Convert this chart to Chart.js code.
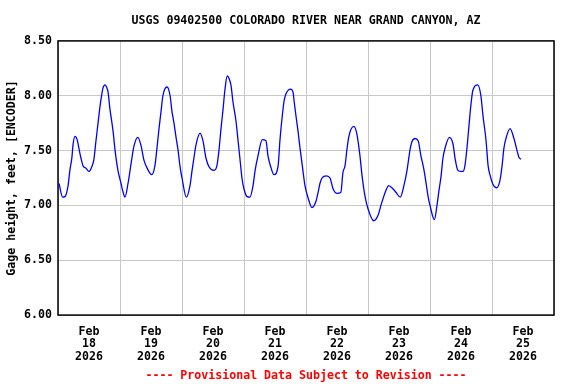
<!DOCTYPE html>
<html>
<head>
<meta charset="utf-8">
<title>USGS 09402500</title>
<script src="https://cdn.jsdelivr.net/npm/chart.js@4.4.1/dist/chart.umd.min.js"></script>
<style>
  html, body { margin: 0; padding: 0; background: #ffffff; }
  #wrap { width: 576px; height: 384px; }
</style>
</head>
<body>
<div id="wrap"><canvas id="gageChart" width="576" height="384"></canvas></div>
<script>
// hours since Feb 18 2026 00:00
var hours = [
  0.4, 1.8, 2.7, 3.9, 4.6, 5.4, 5.8, 6.6, 7.4, 8.1, 8.9, 9.7, 10.8, 12.0, 13.2, 13.9,
  14.7, 15.5, 16.3, 17.0, 17.4, 18.2, 18.8, 19.4, 20.1, 21.3, 22.1, 23.2, 24.4, 25.2,
  25.9, 27.1, 27.9, 28.6, 29.4, 30.9, 32.1, 33.3, 34.5, 36.3, 37.5, 38.3, 39.1, 39.9,
  40.6, 42.2, 43.4, 44.1, 44.9, 45.7, 46.5, 47.2, 48.0, 49.7, 51.1, 51.9, 52.6, 53.4,
  55.0, 56.1, 57.3, 58.5, 60.4, 61.5, 62.3, 63.1, 63.9, 64.6, 65.5, 66.2, 67.0, 67.7,
  68.9, 69.7, 70.5, 71.2, 72.0, 73.2, 74.3, 75.5, 76.3, 77.4, 79.1, 80.5, 81.3, 82.5,
  83.6, 85.2, 85.9, 86.7, 87.5, 88.3, 90.1, 91.0, 91.4, 92.1, 92.9, 93.7, 94.8, 95.6,
  96.8, 98.3, 99.9, 100.6, 101.4, 102.2, 103.9, 105.3, 106.5, 108.0, 109.5, 110.3,
  111.1, 111.9, 112.6, 114.5, 115.7, 116.9, 117.7, 118.8, 120.0, 122.2, 123.9, 125.0,
  125.8, 127.0, 128.0, 129.7, 130.8, 132.5, 133.9, 135.1, 136.3, 137.0, 138.2, 139.4,
  140.5, 141.7, 142.5, 143.2, 144.0, 145.7, 146.7, 147.5, 148.3, 149.0, 149.8, 151.5,
  152.9, 153.7, 154.8, 156.0, 156.8, 157.5, 158.3, 159.1, 159.9, 160.6, 162.5, 163.7,
  164.5, 165.7, 166.5, 167.2, 168.4, 169.8, 171.1, 171.9, 172.6, 173.4, 175.0, 176.5,
  177.7, 178.4, 179.2
];
var gageFeet = [
  7.20, 7.075, 7.08, 7.18, 7.32, 7.44, 7.55, 7.63, 7.60, 7.52, 7.43, 7.36, 7.34, 7.31, 7.36, 7.42,
  7.59, 7.75, 7.91, 8.02, 8.07, 8.10, 8.08, 8.03, 7.88, 7.68, 7.50, 7.32, 7.20, 7.12,
  7.075, 7.20, 7.32, 7.43, 7.54, 7.62, 7.55, 7.41, 7.34, 7.28, 7.36, 7.52, 7.70, 7.86,
  8.00, 8.08, 8.00, 7.86, 7.75, 7.62, 7.50, 7.36, 7.25, 7.075, 7.18, 7.32, 7.43, 7.55,
  7.66, 7.59, 7.43, 7.35, 7.32, 7.36, 7.50, 7.70, 7.88, 8.05, 8.18, 8.16, 8.09, 7.95,
  7.77, 7.59, 7.41, 7.25, 7.15, 7.08, 7.075, 7.18, 7.32, 7.45, 7.60, 7.59, 7.45, 7.34,
  7.28, 7.36, 7.59, 7.79, 7.95, 8.02, 8.06, 8.03, 7.95, 7.82, 7.68, 7.52, 7.32, 7.18,
  7.07, 6.98, 7.04, 7.11, 7.20, 7.25, 7.27, 7.25, 7.15, 7.11, 7.12, 7.30,
  7.36, 7.52, 7.63, 7.72, 7.65, 7.45, 7.27, 7.09, 6.97, 6.86, 6.91, 7.00,
  7.06, 7.14, 7.18, 7.15, 7.12, 7.075, 7.18, 7.32, 7.51, 7.58, 7.61, 7.59,
  7.45, 7.32, 7.20, 7.09, 7.00, 6.87, 7.00, 7.14, 7.27, 7.43, 7.52, 7.62,
  7.56, 7.43, 7.32, 7.31, 7.31, 7.36, 7.52, 7.73, 7.93, 8.05, 8.10, 8.00,
  7.82, 7.59, 7.36, 7.28, 7.19, 7.16, 7.23, 7.36, 7.52, 7.61, 7.70, 7.61,
  7.50, 7.44, 7.42
];
var dayLabels = ["18", "19", "20", "21", "22", "23", "24", "25"];
var yTicks = [6.0, 6.5, 7.0, 7.5, 8.0, 8.5];

(function () {
  var mono = "'DejaVu Sans Mono', 'Liberation Mono', monospace";
  var gridColor = "#c8c8c8";

  var points = hours.map(function (h, i) {
    return { x: h, y: gageFeet[i] };
  });

  var frame = {
    id: "frame",
    afterDraw: function (chart) {
      var a = chart.chartArea;
      var ctx = chart.ctx;
      ctx.save();
      ctx.strokeStyle = "#000000";
      ctx.lineWidth = 1.5;
      ctx.strokeRect(a.left, a.top, a.right - a.left, a.bottom - a.top);
      ctx.restore();
    }
  };

  new Chart(document.getElementById("gageChart"), {
    type: "line",
    data: {
      datasets: [{
        data: points,
        borderColor: "#0000ff",
        borderWidth: 1.3,
        pointRadius: 0,
        fill: false,
        cubicInterpolationMode: "monotone"
      }]
    },
    options: {
      responsive: false,
      animation: false,
      events: [],
      layout: { padding: { left: 0, right: 22, top: 0, bottom: 0 } },
      plugins: {
        legend: { display: false },
        tooltip: { enabled: false },
        title: {
          display: true,
          fullSize: false,
          text: "USGS 09402500 COLORADO RIVER NEAR GRAND CANYON, AZ",
          color: "#000000",
          font: { family: mono, size: 11.6, weight: "bold" },
          padding: { top: 14, bottom: 13 }
        },
        subtitle: {
          display: true,
          fullSize: false,
          position: "bottom",
          text: "---- Provisional Data Subject to Revision ----",
          color: "#ff0000",
          font: { family: mono, size: 11.6, weight: "bold" },
          padding: { top: 4, bottom: 1 }
        }
      },
      scales: {
        x: {
          type: "linear",
          min: 0,
          max: 192,
          afterBuildTicks: function (scale) {
            var t = [];
            for (var v = 0; v <= 192; v += 12) {
              t.push({ value: v });
            }
            scale.ticks = t;
          },
          afterFit: function (scale) { scale.height = 50; },
          border: { display: false },
          grid: {
            drawTicks: false,
            color: function (c) {
              var v = c.tick ? c.tick.value : 0;
              return v % 24 === 0 ? gridColor : "rgba(0,0,0,0)";
            }
          },
          ticks: {
            autoSkip: false,
            maxRotation: 0,
            padding: 11,
            color: "#000000",
            font: { family: mono, size: 11.6, weight: "bold", lineHeight: 1.05 },
            callback: function (v) {
              if (v % 24 !== 12) {
                return "";
              }
              return ["Feb", dayLabels[Math.floor(v / 24)], "2026"];
            }
          }
        },
        y: {
          min: 6,
          max: 8.5,
          afterBuildTicks: function (scale) {
            scale.ticks = yTicks.map(function (v) { return { value: v }; });
          },
          afterFit: function (scale) { scale.width = 58; },
          border: { display: false },
          grid: { drawTicks: false, color: gridColor },
          title: {
            display: true,
            text: "Gage height, feet, [ENCODER]",
            color: "#000000",
            font: { family: mono, size: 11.6, weight: "bold" },
            padding: { top: 5, bottom: 0 }
          },
          ticks: {
            padding: 6,
            color: "#000000",
            font: { family: mono, size: 11.6, weight: "bold" },
            callback: function (v) { return v.toFixed(2); }
          }
        }
      }
    },
    plugins: [frame]
  });
})();
</script>
</body>
</html>
